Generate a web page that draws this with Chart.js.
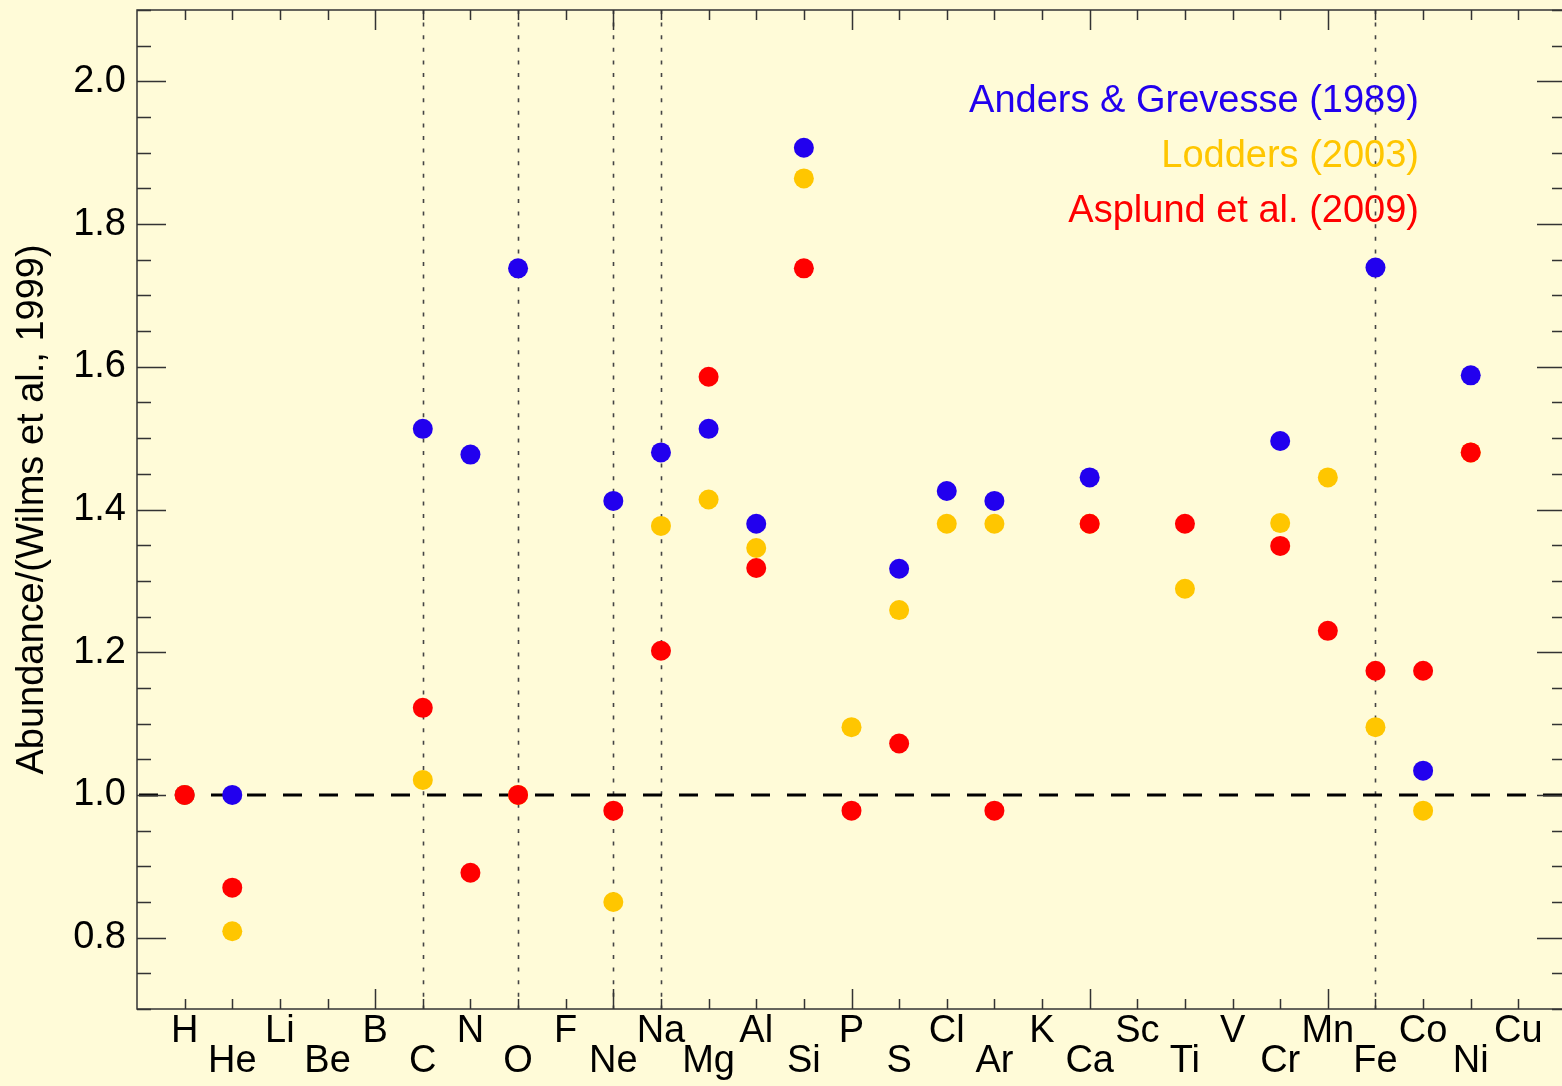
<!DOCTYPE html>
<html>
<head>
<meta charset="utf-8">
<script src="https://cdn.jsdelivr.net/npm/chart.js@4.4.1/dist/chart.umd.min.js"></script>
<style>
  html, body { margin: 0; padding: 0; overflow: hidden; background: #fffbd8; }
  #wrap { width: 1566px; height: 1086px; position: relative; }
</style>
</head>
<body>
<div id="wrap"><canvas id="abundChart"></canvas></div>
<script>
// element names along the x axis (Z = 1..29)
const elements = ['H', 'He', 'Li', 'Be', 'B', 'C', 'N', 'O', 'F', 'Ne', 'Na', 'Mg', 'Al', 'Si', 'P',
    'S', 'Cl', 'Ar', 'K', 'Ca', 'Sc', 'Ti', 'V', 'Cr', 'Mn', 'Fe', 'Co', 'Ni', 'Cu'];

// abundance ratios relative to Wilms et al. (1999), null = not plotted
const andersGrevesse = [1.0, 1.0, null, null, null, 1.513, 1.477, 1.738, null, 1.412, 1.480, 1.513, 1.380, 1.907, null,
    1.317, 1.426, 1.412, null, 1.445, null, null, null, 1.496, null, 1.739, 1.034, 1.588, null];
const lodders = [1.0, 0.809, null, null, null, 1.021, null, 1.0, null, 0.850, 1.377, 1.414, 1.346, 1.864, 1.095,
    1.259, 1.380, 1.380, null, 1.380, null, 1.289, null, 1.381, 1.445, 1.095, 0.978, 1.480, null];
const asplund = [1.0, 0.870, null, null, null, 1.122, 0.891, 1.0, null, 0.978, 1.202, 1.586, 1.318, 1.738, 0.978,
    1.072, null, 0.978, null, 1.380, null, 1.380, null, 1.349, 1.230, 1.174, 1.174, 1.480, null];

// y tick labels and the reference level
const yLabels = [0.8, 1.0, 1.2, 1.4, 1.6, 1.8, 2.0];
const refLevel = 1.0;

// elements marked with a dotted vertical line
const markedElements = ['C', 'O', 'Ne', 'Na', 'Fe'];

const seriesNames = ['Anders & Grevesse (1989)', 'Lodders (2003)', 'Asplund et al. (2009)'];
const seriesColors = ['#2200ee', '#ffc600', '#ff0000'];

const FONT = "'Liberation Sans', Helvetica, Arial, sans-serif";

const toPoints = (vals) => vals
    .map((v, i) => ({ x: i + 1, y: v }))
    .filter((p) => p.y !== null);

//draws the frame, tick marks, dashed/dotted lines and the text legend
const decorations = {
    id: 'decorations',
    beforeDraw(chart) {
        const ctx = chart.ctx;
        ctx.save();
        ctx.fillStyle = '#fffbd8';
        ctx.fillRect(0, 0, chart.width, chart.height);
        ctx.restore();
    },
    beforeDatasetsDraw(chart) {
        const { ctx, chartArea: a, scales: { x, y } } = chart;
        ctx.save();
        //dotted verticals
        ctx.strokeStyle = '#444';
        ctx.lineWidth = 1.6;
        ctx.setLineDash([4, 8.6]);
        markedElements.forEach((el) => {
            const px = Math.round(x.getPixelForValue(elements.indexOf(el) + 1)) + 0.5;
            ctx.beginPath();
            ctx.moveTo(px, a.top);
            ctx.lineTo(px, a.bottom);
            ctx.stroke();
        });
        //dashed line at 1.0
        const py = y.getPixelForValue(refLevel);
        ctx.strokeStyle = '#000';
        ctx.lineWidth = 3;
        ctx.setLineDash([19, 17]);
        ctx.lineDashOffset = -2;
        ctx.beginPath();
        ctx.moveTo(a.left, py);
        ctx.lineTo(a.right, py);
        ctx.stroke();
        ctx.restore();
    },
    afterDraw(chart) {
        const { ctx, chartArea: a, scales: { x, y } } = chart;
        ctx.save();
        ctx.strokeStyle = '#333';
        ctx.lineWidth = 1.5;
        ctx.setLineDash([]);
        ctx.strokeRect(a.left, a.top, a.right - a.left, a.bottom - a.top);

        ctx.beginPath();
        //x ticks, top and bottom
        for (let i = 1; i < 30; i++) {
            const px = Math.round(x.getPixelForValue(i)) + 0.5;
            const len = i % 5 === 0 ? 20 : 10;
            ctx.moveTo(px, a.bottom);
            ctx.lineTo(px, a.bottom - len);
            ctx.moveTo(px, a.top);
            ctx.lineTo(px, a.top + len);
        }
        //y ticks, left and right, minor every 0.05
        for (let k = 0; k <= 28; k++) {
            const v = 0.7 + k * 0.05;
            const py = Math.round(y.getPixelForValue(v)) + 0.5;
            const major = yLabels.some((l) => Math.abs(l - v) < 1e-6);
            const len = major ? 29 : 14;
            ctx.moveTo(a.left, py);
            ctx.lineTo(a.left + len, py);
            ctx.moveTo(a.right, py);
            ctx.lineTo(a.right - len, py);
        }
        ctx.stroke();

        //legend as coloured text
        ctx.font = `38px ${FONT}`;
        ctx.textAlign = 'right';
        ctx.textBaseline = 'alphabetic';
        seriesNames.forEach((name, i) => {
            ctx.fillStyle = seriesColors[i];
            ctx.fillText(name, 1419, 112 + i * 55);
        });
        ctx.restore();
    },
};

const makeDataset = (label, data, color, order) => ({
    label,
    data,
    order,
    backgroundColor: color,
    borderWidth: 0,
    pointRadius: 10,
    pointHoverRadius: 10,
    pointStyle: 'circle',
});

new Chart(document.getElementById('abundChart'), {
    type: 'scatter',
    data: {
        datasets: [
            makeDataset(seriesNames[0], toPoints(andersGrevesse), seriesColors[0], 3),
            makeDataset(seriesNames[1], toPoints(lodders), seriesColors[1], 2),
            makeDataset(seriesNames[2], toPoints(asplund), seriesColors[2], 1),
        ],
    },
    options: {
        responsive: true,
        maintainAspectRatio: false,
        animation: false,
        //no automatic padding for the point radius
        layout: { autoPadding: false, padding: { top: 10, left: 0, right: 0, bottom: 0 } },
        plugins: {
            legend: { display: false },
            tooltip: { enabled: false },
        },
        scales: {
            x: {
                type: 'linear',
                position: 'bottom',
                min: 0,
                max: 30,
                grid: { display: false, drawTicks: false },
                border: { display: false },
                afterBuildTicks: (scale) => {
                    scale.ticks = elements.map((e, i) => ({ value: i + 1 }));
                },
                //fixed size, no extra label overhang padding
                afterFit: (scale) => {
                    scale.height = 77;
                    scale.paddingLeft = 0;
                    scale.paddingRight = 0;
                },
                ticks: {
                    autoSkip: false,
                    maxRotation: 0,
                    minRotation: 0,
                    padding: 8,
                    color: '#000',
                    font: { family: FONT, size: 38, lineHeight: '30px' },
                    //odd Z on the upper row, even Z on the lower row
                    callback: (v) => {
                        const name = elements[Math.round(v) - 1];
                        return Math.round(v) % 2 === 1 ? [name] : ['', name];
                    },
                },
            },
            y: {
                type: 'linear',
                min: 0.7,
                max: 2.1,
                grid: { display: false, drawTicks: false },
                border: { display: false },
                afterBuildTicks: (scale) => {
                    scale.ticks = yLabels.map((v) => ({ value: v }));
                },
                afterFit: (scale) => {
                    scale.width = 137;
                    scale.paddingTop = 0;
                    scale.paddingBottom = 0;
                },
                ticks: {
                    padding: 11,
                    color: '#000',
                    font: { family: FONT, size: 38 },
                    callback: (v) => v.toFixed(1),
                },
                title: {
                    display: true,
                    text: 'Abundance/(Wilms et al., 1999)',
                    color: '#000',
                    font: { family: FONT, size: 38, lineHeight: 1.2 },
                    padding: { top: 10, bottom: 0 },
                },
            },
        },
    },
    plugins: [decorations],
});
</script>
</body>
</html>
